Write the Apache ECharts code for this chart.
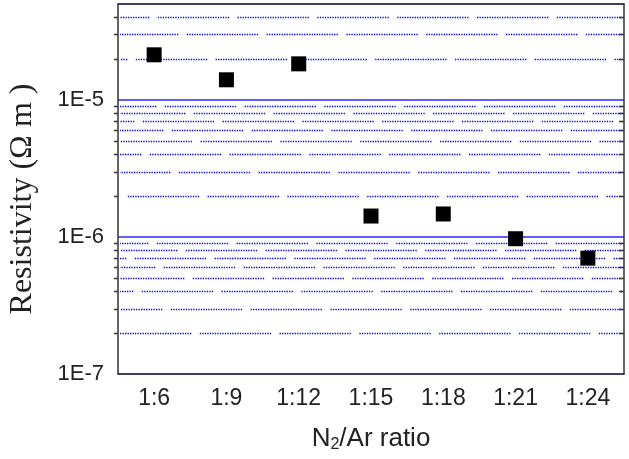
<!DOCTYPE html>
<html>
<head>
<meta charset="utf-8">
<script src="https://cdn.jsdelivr.net/npm/echarts@6/dist/echarts.min.js"></script>
<style>
  html, body { margin: 0; padding: 0; background: #fff; }
  #chart { width: 629px; height: 459px; }
</style>
</head>
<body>
<div id="chart"></div>
<script>
// Resistivity vs N2/Ar ratio, log y axis with Origin-style dotted minor grid.
const ratios = ["1:6", "1:9", "1:12", "1:15", "1:18", "1:21", "1:24"];
const resistivity = [2.13e-5, 1.40e-5, 1.83e-5, 1.42e-6, 1.47e-6, 0.97e-6, 0.70e-6];
const yMin = 1e-7;
const yMax = 5e-5;
// minor lines at 2..9 x each decade
const minorLines = [
  2e-7, 3e-7, 4e-7, 5e-7, 6e-7, 7e-7, 8e-7, 9e-7,
  2e-6, 3e-6, 4e-6, 5e-6, 6e-6, 7e-6, 8e-6, 9e-6,
  2e-5, 3e-5, 4e-5
];

const AXIS = "#333";
const BLUE = "#2a2aff";
const DOT = "#0000ff";

// dots in runs of ~72px with a short gap, like the exported dotted grid
const dotDash = [];
for (let i = 0; i < 29; i++) dotDash.push(1.3, 1.2);
dotDash[dotDash.length - 1] = 8.5;

const decadeLabel = (v) => {
  const e = Math.log10(v);
  return Math.abs(e - Math.round(e)) < 1e-6 ? "1E" + Math.round(e) : "";
};

function minorGrid(params, api) {
  const cs = params.coordSys;
  const y = Math.round(api.coord([0, api.value(1)])[1]) + 0.5;
  const i = params.dataIndex;
  return {
    type: "group",
    children: [
      {
        type: "line",
        shape: { x1: cs.x + 2, y1: y, x2: cs.x + cs.width - 2, y2: y },
        style: { stroke: DOT, lineWidth: 1.3, lineDash: dotDash, lineDashOffset: (i * 29) % 80 },
      },
      { type: "rect", shape: { x: cs.x - 4, y: y - 0.75, width: 4, height: 1.5 }, style: { fill: AXIS } },
      { type: "rect", shape: { x: cs.x + cs.width - 5, y: y - 0.75, width: 5, height: 1.5 }, style: { fill: AXIS } },
    ],
  };
}

const chart = echarts.init(document.getElementById("chart"));
chart.setOption({
  animation: false,
  grid: { left: 118, right: 5, top: 4, bottom: 85, outerBoundsMode: "none" },
  xAxis: [
    {
      type: "category",
      data: ratios,
      name: "N{sub|2}/Ar ratio",
      nameLocation: "middle",
      nameGap: 50,
      nameTextStyle: {
        fontFamily: "Liberation Sans",
        fontSize: 26,
        color: "#222",
        rich: { sub: { fontFamily: "Liberation Sans", fontSize: 16, color: "#222", padding: [13, 0, 0, 0] } },
      },
      axisLine: { lineStyle: { color: AXIS, width: 1.5 } },
      axisTick: { alignWithLabel: true, length: 7, lineStyle: { color: AXIS, width: 1.5 } },
      axisLabel: { fontFamily: "Liberation Sans", fontSize: 23, color: "#222", margin: 13 },
      splitLine: { show: false },
    },
    {
      type: "category",
      data: ratios,
      position: "top",
      axisLine: { lineStyle: { color: AXIS, width: 1.5 } },
      axisTick: { show: false },
      axisLabel: { show: false },
    },
  ],
  yAxis: [
    {
      type: "log",
      min: yMin,
      max: yMax,
      name: "Resistivity (Ω m )",
      nameLocation: "middle",
      nameGap: 79,
      nameTextStyle: { fontFamily: "Liberation Serif", fontSize: 32, color: "#222", padding: [0, 20, 0, 0] },
      axisLine: { show: true, lineStyle: { color: AXIS, width: 1.5 } },
      axisTick: { length: 9, lineStyle: { color: AXIS, width: 1.5 } },
      axisLabel: { fontFamily: "Liberation Sans", fontSize: 22, color: "#222", margin: 14, formatter: decadeLabel },
      splitLine: { show: true, lineStyle: { color: BLUE, width: 1.5 } },
    },
    {
      type: "log",
      min: yMin,
      max: yMax,
      position: "right",
      axisLine: { show: true, lineStyle: { color: AXIS, width: 1.5 } },
      axisTick: { inside: true, length: 8, lineStyle: { color: AXIS, width: 1.5 } },
      axisLabel: { show: false },
      splitLine: { show: false },
    },
  ],
  series: [
    {
      type: "custom",
      renderItem: minorGrid,
      data: minorLines.map((v) => [0, v]),
      encode: { x: 0, y: 1 },
      clip: false,
      silent: true,
      z: 1,
    },
    {
      type: "scatter",
      data: resistivity,
      symbol: "rect",
      symbolSize: 15,
      itemStyle: { color: "#000", opacity: 1 },
      z: 5,
    },
  ],
});
</script>
</body>
</html>
